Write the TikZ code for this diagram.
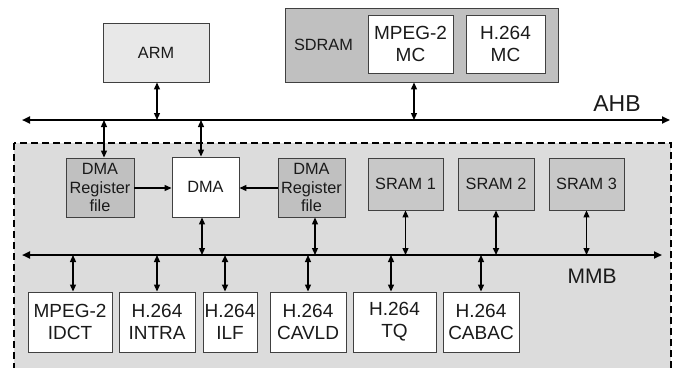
\documentclass[tikz,border=0pt]{standalone}
\usepackage{fontspec}
\setmainfont{Liberation Sans}
\usetikzlibrary{arrows.meta}
\definecolor{armfill}{HTML}{E8E8E8}
\definecolor{darkfill}{HTML}{C0C0C0}
\definecolor{sramfill}{HTML}{C8C8C8}
\definecolor{regionfill}{HTML}{DCDCDC}
\definecolor{edge}{HTML}{404040}
\definecolor{ink}{HTML}{1A1A1A}
\begin{document}
\begin{tikzpicture}[x=1pt,y=-1pt,
  box/.style={draw=edge,line width=0.9pt,inner sep=0pt,align=center,text=ink,
    font=\fontsize{16.3}{18.5}\selectfont},
  bigbox/.style={box,fill=white,font=\fontsize{19}{22}\selectfont},
  link/.style={line width=1.2pt,{Triangle[length=7pt,width=6pt]}-{Triangle[length=7pt,width=6pt]}},
  onelink/.style={line width=1.2pt,-{Triangle[length=7pt,width=6pt]}},
  bus/.style={line width=2pt,{Triangle[length=8pt,width=7pt]}-{Triangle[length=8pt,width=7pt]}},
  buslabel/.style={inner sep=0pt,text=ink},
]
\useasboundingbox (0,0) rectangle (676,367);
\clip (0,0) rectangle (676,367);
\fill[white] (0,0) rectangle (676,367);

% dashed region
\draw[fill=regionfill,line width=1.8pt,dash pattern=on 7pt off 4pt] (14,143) rectangle (671,400);

% top blocks
\node[box,fill=armfill,minimum width=106,minimum height=59] (arm) at (156,52.5) {ARM};
\node[box,fill=darkfill,minimum width=273,minimum height=74] (sdram) at (421.5,45) {};
\node[buslabel,font=\fontsize{16.3}{18.5}\selectfont] (sdramlbl) at (323.5,45) {SDRAM};
\node[box,fill=white,font=\fontsize{19}{22}\selectfont,minimum width=85,minimum height=58] (mpegmc) at (410.5,44) {MPEG-2\\MC};
\node[box,fill=white,font=\fontsize{19}{22}\selectfont,minimum width=79,minimum height=58] (h264mc) at (505.5,44) {H.264\\MC};

% buses
\coordinate (ahbL) at (22,120);
\coordinate (ahbR) at (670,120);
\draw[bus] (ahbL) -- (ahbR);
\node[buslabel,font=\fontsize{23}{25}\selectfont] (ahb) at (617,104) {AHB};
\coordinate (mmbL) at (22,255);
\coordinate (mmbR) at (662,255);
\draw[bus] (mmbL) -- (mmbR);
\node[buslabel,font=\fontsize{21}{23}\selectfont] (mmb) at (592,276) {MMB};

% middle blocks
\node[box,fill=darkfill,minimum width=68,minimum height=59] (regl) at (100,187.5) {DMA\\Register\\file};
\node[box,fill=white,minimum width=67,minimum height=60] (dma) at (205.5,187) {DMA};
\node[box,fill=darkfill,minimum width=67,minimum height=59] (regr) at (311.5,187.5) {DMA\\Register\\file};
\node[box,fill=sramfill,minimum width=75,minimum height=52] (sram1) at (405.5,184) {SRAM 1};
\node[box,fill=sramfill,minimum width=76,minimum height=52] (sram2) at (496,184) {SRAM 2};
\node[box,fill=sramfill,minimum width=75,minimum height=52] (sram3) at (586.5,184) {SRAM 3};

% bottom blocks
\node[bigbox,minimum width=84,minimum height=60] (idct) at (70,322) {MPEG-2\\IDCT};
\node[bigbox,minimum width=76,minimum height=60] (intra) at (157,322) {H.264\\INTRA};
\node[bigbox,minimum width=54,minimum height=60] (ilf) at (230,322) {H.264\\ILF};
\node[bigbox,minimum width=76,minimum height=60] (cavld) at (308,322) {H.264\\CAVLD};
\node[bigbox,minimum width=83,minimum height=60] (tq) at (394.5,322) {H.264\\TQ};
\node[bigbox,minimum width=76,minimum height=60] (cabac) at (481,322) {H.264\\CABAC};

% AHB connections
\draw[link] ([xshift=1pt]arm.south) -- ([xshift=1pt]arm.south |- ahbL);
\draw[link] ([xshift=3.5pt]mpegmc.south |- sdram.south) -- ([xshift=3.5pt]mpegmc.south |- ahbL);
\draw[link] ([xshift=4pt]regl.north |- ahbL) -- ([xshift=4pt]regl.north);
\draw[link] ([xshift=-4.5pt]dma.north |- ahbL) -- ([xshift=-4.5pt]dma.north);

% register files to DMA
\draw[onelink] (regl.east |- 0,188) -- (dma.west |- 0,188);
\draw[onelink] (regr.west |- 0,188) -- (dma.east |- 0,188);

% MMB connections (upper)
\draw[link] ([xshift=-3.5pt]dma.south) -- ([xshift=-3.5pt]dma.south |- mmbL);
\draw[link] ([xshift=3.5pt]regr.south) -- ([xshift=3.5pt]regr.south |- mmbL);
\draw[link] (sram1.south) -- (sram1.south |- mmbL);
\draw[link,line width=1.6pt] (sram2.south) -- (sram2.south |- mmbL);
\draw[link] (sram3.south) -- (sram3.south |- mmbL);

% MMB connections (lower)
\draw[link] ([xshift=3pt]idct.north |- mmbL) -- ([xshift=3pt]idct.north);
\draw[link] (intra.north |- mmbL) -- (intra.north);
\draw[link,line width=1.6pt] ([xshift=-5pt]ilf.north |- mmbL) -- ([xshift=-5pt]ilf.north);
\draw[link] (cavld.north |- mmbL) -- (cavld.north);
\draw[link] ([xshift=-3.5pt]tq.north |- mmbL) -- ([xshift=-3.5pt]tq.north);
\draw[link] (cabac.north |- mmbL) -- (cabac.north);
\end{tikzpicture}
\end{document}
